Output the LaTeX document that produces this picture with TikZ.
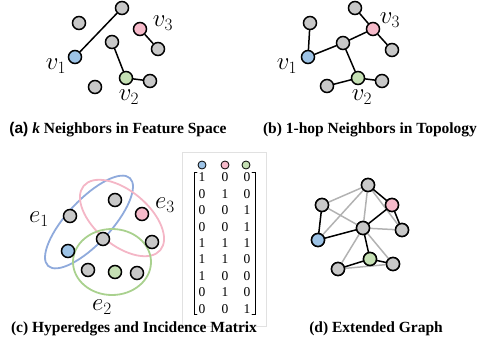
\documentclass[tikz,border=0pt]{standalone}
\usepackage{fontspec}
\setmainfont{Liberation Serif}
\setsansfont{Liberation Sans}
\usepackage{tikz}
\definecolor{nodeGray}{RGB}{200,200,200}
\definecolor{nodeBlue}{RGB}{157,195,230}
\definecolor{nodePink}{RGB}{246,186,202}
\definecolor{nodeGreen}{RGB}{197,224,180}
\definecolor{hypBlue}{RGB}{143,170,220}
\definecolor{hypPink}{RGB}{244,182,198}
\definecolor{hypGreen}{RGB}{169,209,142}
\definecolor{extGray}{RGB}{178,178,178}
\definecolor{boxGray}{RGB}{225,225,225}
\tikzset{
	vtx/.style={circle, draw=black, line width=1.5pt, minimum size=13pt, inner sep=0pt, fill=nodeGray},
	vblue/.style={vtx, fill=nodeBlue},
	vpink/.style={vtx, fill=nodePink},
	vgreen/.style={vtx, fill=nodeGreen},
	dot/.style={circle, draw=black, line width=0.8pt, minimum size=8pt, inner sep=0pt},
	nbr/.style={line width=1.5pt, black},
	ext/.style={line width=1.5pt, extGray},
	hyp/.style={line width=1.8pt},
	vlabel/.style={font=\fontsize{23}{25}\selectfont},
	entry/.style={font=\fontsize{13.5}{14}\selectfont, inner sep=0pt},
	caption/.style={font=\fontsize{15.5}{17}\selectfont\bfseries, inner sep=1pt}
}

\begin{document}
\begin{tikzpicture}[x=1pt, y=-1pt, line cap=round]

	\useasboundingbox (0,0) rectangle (479,345);

	% (a) neighbours in feature space
	\node[vtx]    (a1) at (122,8)  {};
	\node[vtx]    (a2) at (79,23)  {};
	\node[vpink]  (a3) at (140,29) {};
	\node[vtx]    (a4) at (158,49) {};
	\node[vtx]    (a5) at (112,42) {};
	\node[vblue]  (a6) at (75,57)  {};
	\node[vgreen] (a7) at (126,78) {};
	\node[vtx]    (a8) at (150,81) {};
	\node[vtx]    (a9) at (95,87)  {};
	\draw[nbr] (a6) -- (a1);
	\draw[nbr] (a3) -- (a4);
	\draw[nbr] (a5) -- (a7);
	\draw[nbr] (a7) -- (a8);
	\node[vlabel] (av1) at (56,66) {$v_1$};
	\node[vlabel] (av2) at (129,97) {$v_2$};
	\node[vlabel] (av3) at (163,23) {$v_3$};
	\node[caption] (capa) at (118,130) {\textsf{(a)} \textit{k} Neighbors in Feature Space};

	% (b) 1-hop neighbours in topology
	\node[vtx]    (b1) at (355,8)  {};
	\node[vpink]  (b2) at (373,29) {};
	\node[vtx]    (b3) at (310,23) {};
	\node[vtx]    (b4) at (343,43) {};
	\node[vtx]    (b5) at (392,50) {};
	\node[vblue]  (b6) at (308,57) {};
	\node[vgreen] (b7) at (358,78) {};
	\node[vtx]    (b8) at (327,86) {};
	\node[vtx]    (b9) at (382,81) {};
	\draw[nbr] (b1) -- (b2);
	\draw[nbr] (b2) -- (b5);
	\draw[nbr] (b2) -- (b4);
	\draw[nbr] (b4) -- (b6);
	\draw[nbr] (b6) -- (b3);
	\draw[nbr] (b4) -- (b7);
	\draw[nbr] (b7) -- (b8);
	\draw[nbr] (b7) -- (b9);
	\node[vlabel] (bv1) at (287,66) {$v_1$};
	\node[vlabel] (bv2) at (362,97) {$v_2$};
	\node[vlabel] (bv3) at (390,20) {$v_3$};
	\node[caption] (capb) at (370,130) {(b) 1-hop Neighbors in Topology};

	% (c) hyperedges
	\draw[hyp, hypBlue, rotate around={47:(89,222)}] (89,222) ellipse [x radius=60, y radius=22];
	\draw[hyp, hypPink, rotate around={-40:(122,218)}] (122,218) ellipse [x radius=50, y radius=27];
	\draw[hyp, hypGreen] (112,262) ellipse [x radius=39, y radius=33];
	\node[vtx]    (c1) at (115,200) {};
	\node[vtx]    (c2) at (70,216)  {};
	\node[vpink]  (c3) at (142,214) {};
	\node[vtx]    (c4) at (103,239) {};
	\node[vtx]    (c5) at (152,242) {};
	\node[vblue]  (c6) at (68,251)  {};
	\node[vtx]    (c7) at (88,270)  {};
	\node[vgreen] (c8) at (115,272) {};
	\node[vtx]    (c9) at (137,273) {};
	\node[vlabel] (ce1) at (39,219) {$e_1$};
	\node[vlabel] (ce2) at (102,307) {$e_2$};
	\node[vlabel] (ce3) at (165,205) {$e_3$};

	% incidence matrix
	\draw[boxGray, line width=0.5pt] (182,152) rectangle (266,326);
	\node[dot, fill=nodeBlue]  (mb) at (202,165) {};
	\node[dot, fill=nodePink]  (mp) at (225,165) {};
	\node[dot, fill=nodeGreen] (mg) at (246,165) {};
	\foreach \x/\y/\z [count=\i] in {1/0/0, 0/1/0, 0/0/1, 0/0/1, 1/1/1, 1/1/0, 1/0/0, 0/1/0, 0/0/1}{
		\node[entry] (m\i a) at (202,161+16.4*\i) {\x};
		\node[entry] (m\i b) at (225,161+16.4*\i) {\y};
		\node[entry] (m\i c) at (247,161+16.4*\i) {\z};
	}
	\draw[line width=0.8pt] (197,172) -- (194,172) -- (194,314) -- (197,314);
	\draw[line width=0.8pt] (252,172) -- (255,172) -- (255,314) -- (252,314);
	\node[caption] (capc) at (134,329) {(c) Hyperedges and Incidence Matrix};

	% (d) extended graph
	\node[vtx]    (d1) at (368,185) {};
	\node[vtx]    (d2) at (322,205) {};
	\node[vpink]  (d3) at (392,205) {};
	\node[vtx]    (d4) at (363,228) {};
	\node[vtx]    (d5) at (402,230) {};
	\node[vblue]  (d6) at (318,240) {};
	\node[vgreen] (d7) at (370,259) {};
	\node[vtx]    (d8) at (393,264) {};
	\node[vtx]    (d9) at (338,269) {};
	\draw[ext] (d2) -- (d1);
	\draw[ext] (d2) -- (d4);
	\draw[ext] (d1) -- (d4);
	\draw[ext] (d1) -- (d6);
	\draw[ext] (d1) -- (d5);
	\draw[ext] (d4) -- (d5);
	\draw[ext] (d4) -- (d9);
	\draw[ext] (d4) -- (d8);
	\draw[ext] (d9) -- (d8);
	\draw[nbr] (d1) -- (d3);
	\draw[nbr] (d3) -- (d4);
	\draw[nbr] (d3) -- (d5);
	\draw[nbr] (d2) -- (d6);
	\draw[nbr] (d6) -- (d4);
	\draw[nbr] (d4) -- (d7);
	\draw[nbr] (d7) -- (d9);
	\draw[nbr] (d7) -- (d8);
	\foreach \n in {d1,d2,d4,d5,d8,d9} \node[vtx] at (\n) {};
	\node[vpink] at (d3) {};
	\node[vblue] at (d6) {};
	\node[vgreen] at (d7) {};
	\node[caption] (capd) at (376,329) {(d) Extended Graph};

\end{tikzpicture}
\end{document}
